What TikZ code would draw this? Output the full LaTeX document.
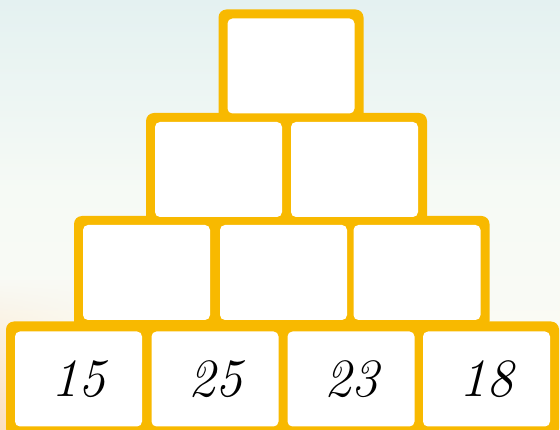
\documentclass[tikz,border=0pt]{standalone}
\usepackage{xcolor}
\usepackage{tikz}
\usetikzlibrary{fadings}
\definecolor{gold}{HTML}{F8B900}
\definecolor{sky}{HTML}{E4F1F1}
\definecolor{haze}{HTML}{F6FAF5}
\definecolor{cream}{HTML}{FDFBF4}
\definecolor{peach}{HTML}{FBDFBE}
\pgfdeclarelayer{backdrop}
\pgfdeclarelayer{frame}
\pgfsetlayers{backdrop,frame,main}

\begin{document}
\begin{tikzpicture}[x=1pt, y=-1pt,
            brick/.style={rectangle, fill=white, rounded corners=5pt, outer sep=0pt, inner sep=0pt,
                minimum width=127pt, minimum height=95pt},
            backing/.style={fill=gold, rounded corners=8pt},
            num/.style={font=\fontsize{54}{54}\selectfont\itshape}]
            \useasboundingbox (0,0) rectangle (560,430);
            % background
            \begin{pgfonlayer}{backdrop}
            \shade[top color=sky, bottom color=haze] (0,0) rectangle (560,190);
            \shade[top color=haze, bottom color=cream] (0,190) rectangle (560,430);
            \shade[left color=peach, right color=cream, path fading=north] (0,280) rectangle (140,430);
            \end{pgfonlayer}
            % pyramid
            \node[brick] (top) at (291,66) {};
            \node[brick] (m1) at (218.5,169.5) {};
            \node[brick] (m2) at (354.5,169.5) {};
            \node[brick] (l1) at (146.5,272.5) {};
            \node[brick] (l2) at (283.5,272.5) {};
            \node[brick] (l3) at (417,272.5) {};
            \node[brick] (b1) at (78.5,379) {};
            \node[brick] (b2) at (215,379) {};
            \node[brick] (b3) at (351,379) {};
            \node[brick] (b4) at (486.5,379) {};
            \node[num] at (b1) {15};
            \node[num] at (b2) {25};
            \node[num] at (b3) {23};
            \node[num] at (b4) {18};
            % yellow frame behind the bricks
            \begin{pgfonlayer}{frame}
            \fill[backing] ([shift={(-9,-9)}]top.north west) rectangle ([shift={(9,9)}]top.south east);
            \fill[backing] ([shift={(-9,-9)}]m1.north west) rectangle ([shift={(9,9)}]m2.south east);
            \fill[backing] ([shift={(-9,-9)}]l1.north west) rectangle ([shift={(9,9)}]l3.south east);
            \fill[backing] ([shift={(-9,-10)}]b1.north west) rectangle ([shift={(9,10)}]b4.south east);
            \end{pgfonlayer}
        \end{tikzpicture}
\end{document}
